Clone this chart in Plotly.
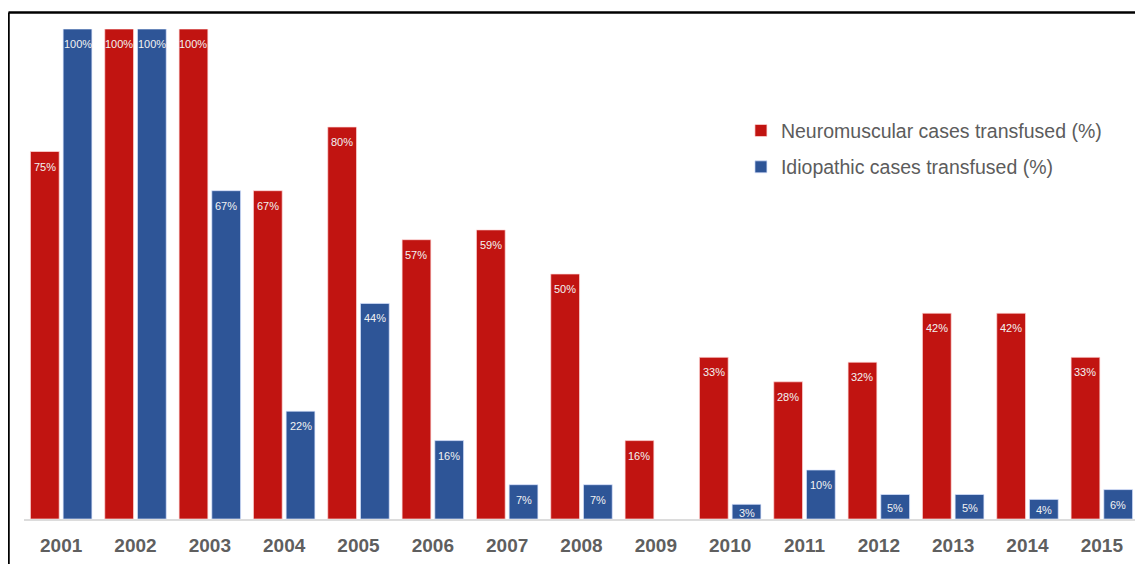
import plotly.graph_objects as go

years = ["2001", "2002", "2003", "2004", "2005", "2006", "2007", "2008",
         "2009", "2010", "2011", "2012", "2013", "2014", "2015"]
neuromuscular = [75, 100, 100, 67, 80, 57, 59, 50, 16, 33, 28, 32, 42, 42, 33]
# 2009 idiopathic: no bar shown in the reference
idiopathic = [100, 100, 67, 22, 44, 16, 7, 7, None, 3, 10, 5, 5, 4, 6]

series_names = ["Neuromuscular cases transfused (%)", "Idiopathic cases transfused (%)"]
RED = "#c11411"
BLUE = "#2e5597"

BARGAP = 0.12
BARGROUPGAP = 0.12
WIDTH, HEIGHT = 1143, 564
MARGIN = dict(l=16, r=12, t=21, b=53)
Y_RANGE = [0, 100]
px_per_unit = (HEIGHT - MARGIN["t"] - MARGIN["b"]) / (Y_RANGE[1] - Y_RANGE[0])

fig = go.Figure()
fig.add_trace(go.Bar(x=years, y=neuromuscular, name=series_names[0],
                     marker=dict(color=RED, line=dict(color="rgba(255,220,220,0.7)", width=1)),
                     legendgroup="a"))
fig.add_trace(go.Bar(x=years, y=idiopathic, name=series_names[1],
                     marker=dict(color=BLUE, line=dict(color="rgba(220,230,255,0.7)", width=1)),
                     legendgroup="b"))

# value labels inside the top of each bar (centred in short bars)
offset = (1 - BARGAP) / 4
annotations = []
for k, vals in enumerate([neuromuscular, idiopathic]):
    sign = -1 if k == 0 else 1
    for i, v in enumerate(vals):
        if not v:
            continue
        shift = min(15, v * px_per_unit / 2 + 1)
        annotations.append(dict(
            x=i + sign * offset, y=v, xref="x", yref="y",
            text=f"{v}%", showarrow=False, yanchor="middle", yshift=-shift,
            font=dict(family="Liberation Sans, Arial, sans-serif", size=11, color="#f2f2f2"),
        ))

fig.update_layout(
    width=WIDTH, height=HEIGHT,
    margin=MARGIN,
    paper_bgcolor="white", plot_bgcolor="white",
    barmode="group", bargap=BARGAP, bargroupgap=BARGROUPGAP,
    annotations=annotations,
    showlegend=True,
    legend=dict(x=0.643, y=0.832, xanchor="left", yanchor="top",
                font=dict(family="Liberation Sans, Arial, sans-serif", size=19.5, color="#5c5c5c"),
                bgcolor="rgba(0,0,0,0)", traceorder="grouped", tracegroupgap=8),
    xaxis=dict(type="category", showline=True, linecolor="#dcdcdc", linewidth=2,
               showgrid=False, ticks="", zeroline=False, ticklabelstandoff=8,
               tickfont=dict(family="Liberation Sans, Arial, sans-serif", size=19, color="#5f5f5f",
                             weight="bold")),
    yaxis=dict(range=Y_RANGE, visible=False, showgrid=False, zeroline=False),
    shapes=[
        dict(type="line", xref="paper", yref="paper", x0=-0.0139, x1=1.02, y0=1.0337, y1=1.0337,
             line=dict(color="black", width=2.5)),
        dict(type="line", xref="paper", yref="paper", x0=-0.0139, x1=-0.0139, y0=1.0337, y1=-0.2,
             line=dict(color="black", width=2.5)),
    ],
)

fig.write_html("out.html")
